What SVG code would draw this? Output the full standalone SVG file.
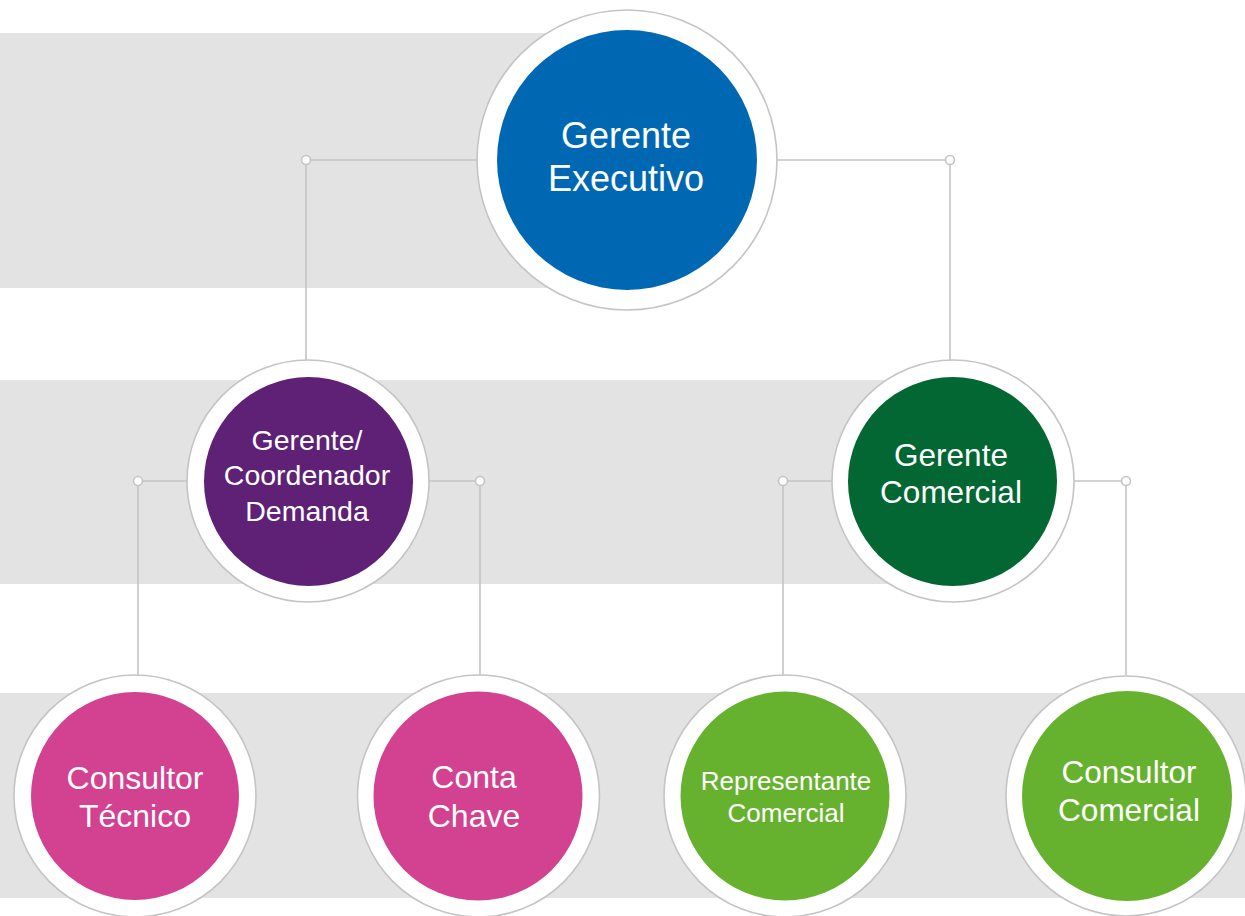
<svg xmlns="http://www.w3.org/2000/svg" width="1245" height="916" viewBox="0 0 1245 916">
<style>
.band{fill:#e3e3e3}
.ring{fill:#ffffff;stroke:#c4c4c4;stroke-width:1.6}
.con line{stroke:#c4c4c4;stroke-width:1.6}
.dot{fill:#ffffff;stroke:#c4c4c4;stroke-width:1.6}
text{font-family:"Liberation Sans",Arial,sans-serif;fill:#ffffff;text-anchor:middle}
</style>
<rect width="1245" height="916" fill="#ffffff"/>
<g id="bands">
<rect class="band" x="0" y="33" width="627" height="255"/>
<rect class="band" x="0" y="380" width="953" height="204"/>
<rect class="band" x="0" y="693" width="1245" height="205"/>
</g>
<g id="connectors" class="con">
<line x1="306" y1="160" x2="478" y2="160"/>
<line x1="306" y1="160" x2="306" y2="360"/>
<line x1="777" y1="160" x2="950" y2="160"/>
<line x1="950" y1="160" x2="950" y2="360"/>
<line x1="138" y1="481" x2="188" y2="481"/>
<line x1="138" y1="481" x2="138" y2="675"/>
<line x1="429" y1="481" x2="480" y2="481"/>
<line x1="480" y1="481" x2="480" y2="675"/>
<line x1="783" y1="481" x2="832" y2="481"/>
<line x1="783" y1="481" x2="783" y2="675"/>
<line x1="1074" y1="481" x2="1126" y2="481"/>
<line x1="1126" y1="481" x2="1126" y2="675"/>
<circle class="dot" cx="306" cy="160" r="4.5"/>
<circle class="dot" cx="950" cy="160" r="4.5"/>
<circle class="dot" cx="138" cy="481" r="4.5"/>
<circle class="dot" cx="480" cy="481" r="4.5"/>
<circle class="dot" cx="783" cy="481" r="4.5"/>
<circle class="dot" cx="1126" cy="481" r="4.5"/>
</g>
<g id="gerente-executivo">
<circle class="ring" cx="627" cy="160" r="150"/>
<circle cx="627" cy="160" r="130" fill="#0068b3"/>
<text x="626" y="148" font-size="36">Gerente</text>
<text x="626" y="191" font-size="36">Executivo</text>
</g>
<g id="gerente-coordenador">
<circle class="ring" cx="308" cy="481" r="121"/>
<circle cx="308.5" cy="481.5" r="104.5" fill="#5e2176"/>
<text x="307" y="450" font-size="28.5">Gerente/</text>
<text x="307" y="485" font-size="28.5">Coordenador</text>
<text x="307" y="521" font-size="28.5">Demanda</text>
</g>
<g id="gerente-comercial">
<circle class="ring" cx="953" cy="481" r="121"/>
<circle cx="952.5" cy="481.5" r="104.5" fill="#036733"/>
<text x="951" y="466" font-size="31.5">Gerente</text>
<text x="951" y="503" font-size="31.5">Comercial</text>
</g>
<g id="consultor-tecnico">
<circle class="ring" cx="135" cy="796" r="121"/>
<circle cx="135" cy="796" r="104" fill="#d24290"/>
<text x="135" y="789" font-size="32">Consultor</text>
<text x="135" y="827" font-size="32">Técnico</text>
</g>
<g id="conta-chave">
<circle class="ring" cx="478.5" cy="796" r="121"/>
<circle cx="478" cy="796" r="104.5" fill="#d24290"/>
<text x="474" y="788" font-size="32">Conta</text>
<text x="474" y="827" font-size="32">Chave</text>
</g>
<g id="representante-comercial">
<circle class="ring" cx="785" cy="796" r="121"/>
<circle cx="785" cy="796" r="104.5" fill="#66b22f"/>
<text x="786" y="790" font-size="26">Representante</text>
<text x="786" y="822" font-size="26">Comercial</text>
</g>
<g id="consultor-comercial">
<circle class="ring" cx="1126" cy="796" r="120"/>
<circle cx="1127" cy="796" r="105" fill="#66b22f"/>
<text x="1129" y="783" font-size="31.5">Consultor</text>
<text x="1129" y="821" font-size="31.5">Comercial</text>
</g>
</svg>
